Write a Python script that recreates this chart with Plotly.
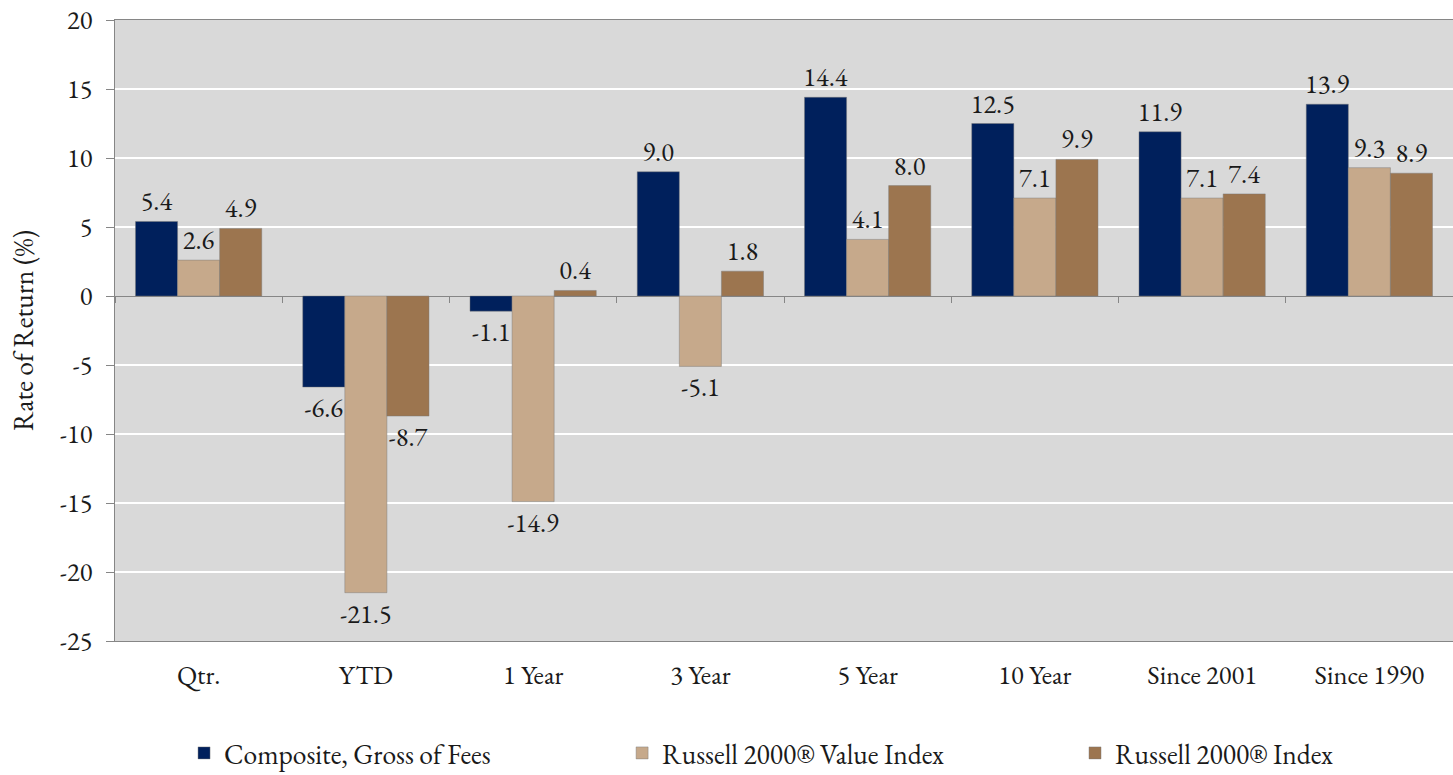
import plotly.graph_objects as go

# Period labels along the x axis
periods = ["Qtr.", "YTD", "1 Year", "3 Year", "5 Year", "10 Year", "Since 2001", "Since 1990"]

# Annualized returns (%) per series
composite = [5.4, -6.6, -1.1, 9.0, 14.4, 12.5, 11.9, 13.9]
r2000_value = [2.6, -21.5, -14.9, -5.1, 4.1, 7.1, 7.1, 9.3]
r2000 = [4.9, -8.7, 0.4, 1.8, 8.0, 9.9, 7.4, 8.9]

series_names = ["Composite, Gross of Fees", "Russell 2000® Value Index", "Russell 2000® Index"]
series_values = [composite, r2000_value, r2000]
series_colors = ["#00205c", "#c6a98b", "#9c754f"]
legend_ids = ["legend", "legend2", "legend3"]
legend_x = [0.0516, 0.379, 0.7175]

y_ticks = [20, 15, 10, 5, 0, -5, -10, -15, -20, -25]

FONT = "Garamond, 'EB Garamond', 'Liberation Serif', 'DejaVu Serif', serif"
TEXT_COLOR = "#1a1a1a"
AXIS_GRAY = "#868686"
FS = 26.5
FS_BIG = 27.5

fig = go.Figure()

for name, vals, color, lid in zip(series_names, series_values, series_colors, legend_ids):
    fig.add_trace(go.Bar(
        x=periods,
        y=vals,
        name=name,
        legend=lid,
        marker=dict(color=color, line=dict(color="rgba(120,120,120,0.55)", width=0.8)),
        text=[f"{v:.1f}" for v in vals],
        textposition="outside",
        constraintext="none",
        cliponaxis=False,
        textfont=dict(family=FONT, size=FS, color=TEXT_COLOR),
        hoverinfo="skip",
    ))

# Invisible trace that carries the category ticks drawn on the zero line
fig.add_trace(go.Scatter(
    x=periods, y=[0] * len(periods), xaxis="x2", mode="none",
    showlegend=False, hoverinfo="skip",
))

y_min, y_max = -25, 20

legend_style = dict(
    orientation="h",
    yref="container",
    y=(775 - 753) / 775,
    xanchor="left",
    yanchor="middle",
    font=dict(family=FONT, size=FS_BIG, color=TEXT_COLOR),
    bgcolor="rgba(0,0,0,0)",
)

fig.update_layout(
    width=1453,
    height=775,
    margin=dict(l=115, r=0, t=20, b=134, autoexpand=False),
    paper_bgcolor="white",
    plot_bgcolor="#d9d9d9",
    barmode="group",
    bargap=0.245,
    bargroupgap=0,
    font=dict(family=FONT, size=FS, color=TEXT_COLOR),
    showlegend=True,
    legend=dict(x=legend_x[0], **legend_style),
    legend2=dict(x=legend_x[1], **legend_style),
    legend3=dict(x=legend_x[2], **legend_style),
    xaxis=dict(
        type="category",
        categoryorder="array",
        categoryarray=periods,
        range=[-0.5, len(periods) - 0.5],
        showline=True,
        linecolor=AXIS_GRAY,
        linewidth=1.3,
        mirror=True,
        ticks="",
        showgrid=False,
        ticklabelstandoff=10,
        tickfont=dict(family=FONT, size=FS, color=TEXT_COLOR),
        fixedrange=True,
    ),
    xaxis2=dict(
        type="category",
        categoryorder="array",
        categoryarray=periods,
        range=[-0.5, len(periods) - 0.5],
        overlaying="x",
        anchor="free",
        position=(0 - y_min) / (y_max - y_min),
        side="bottom",
        showline=False,
        showgrid=False,
        ticks="outside",
        tickson="boundaries",
        ticklen=6,
        tickwidth=1,
        tickcolor=AXIS_GRAY,
        showticklabels=False,
        fixedrange=True,
    ),
    yaxis=dict(
        range=[y_min, y_max],
        tickvals=y_ticks,
        ticktext=[str(v) for v in y_ticks],
        showgrid=True,
        gridcolor="white",
        gridwidth=1.6,
        zeroline=True,
        zerolinecolor=AXIS_GRAY,
        zerolinewidth=1.3,
        showline=True,
        linecolor=AXIS_GRAY,
        linewidth=1.3,
        ticks="outside",
        ticklen=8,
        tickcolor=AXIS_GRAY,
        ticklabelstandoff=8,
        tickfont=dict(family=FONT, size=FS, color=TEXT_COLOR),
        title=dict(text="Rate of Return (%)", standoff=18,
                   font=dict(family=FONT, size=FS_BIG, color=TEXT_COLOR)),
        automargin=False,
        fixedrange=True,
    ),
)

fig.write_html("out.html")
